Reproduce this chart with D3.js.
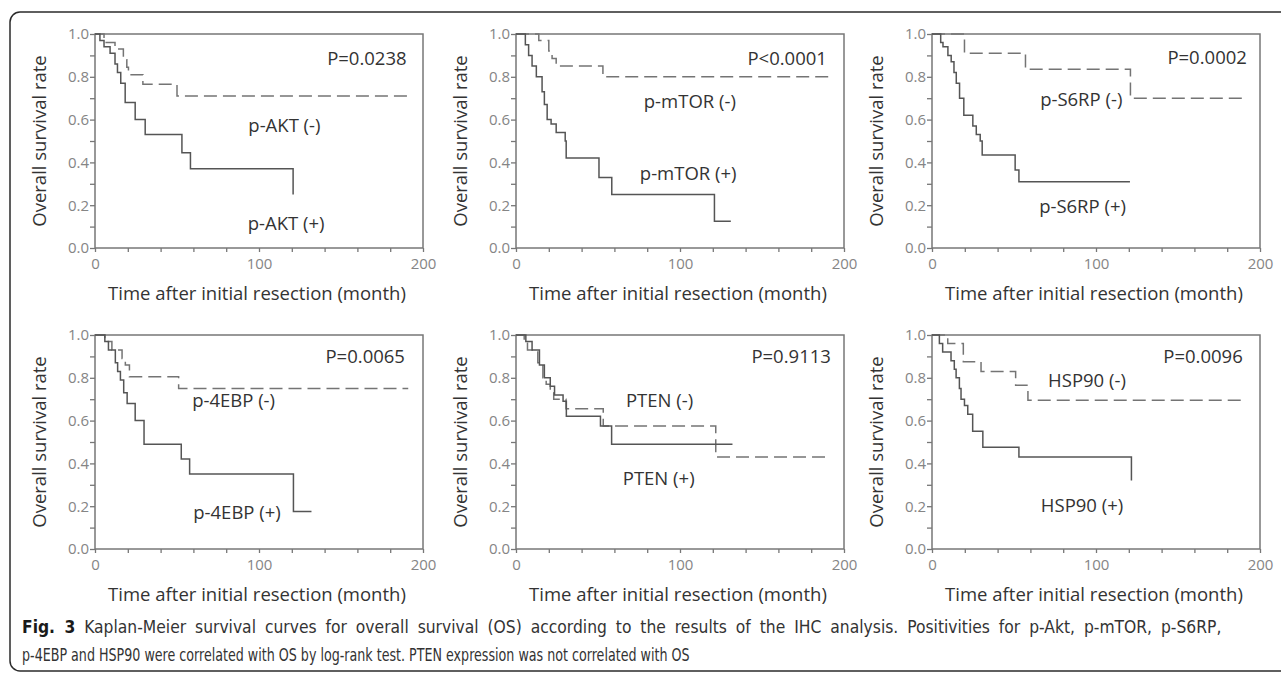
<!DOCTYPE html>
<html>
<head>
<meta charset="utf-8">
<script src="https://cdn.jsdelivr.net/npm/d3@7"></script>
<style>
  body { margin: 0; background: #fff; }
  svg { display: block; }
</style>
</head>
<body>
<script>
  // survival steps: [month, survival after event]; last point = end of follow-up
  var aktNeg = [[0,1],[5.5,0.96],[12.2,0.93],[17.3,0.88],[19.4,0.845],[20.4,0.81],[29.2,0.765],[50,0.71],[191,0.71]];
  var aktPos = [[0,1],[3,0.97],[5.5,0.94],[9.2,0.91],[12.2,0.86],[13.7,0.82],[15.7,0.77],[18.4,0.68],[24.5,0.6],[30.6,0.53],[53,0.445],[58.2,0.37],[120.8,0.25]];

  var mtorNeg = [[0,1],[13.9,0.97],[20,0.92],[22,0.885],[24.5,0.85],[53,0.80],[191,0.80]];
  var mtorPos = [[0,1],[5.7,0.95],[7.7,0.9],[9.8,0.85],[12.4,0.8],[15.9,0.73],[17.3,0.67],[19,0.6],[21.4,0.58],[24.5,0.54],[30,0.5],[30.6,0.42],[50.6,0.33],[58.4,0.25],[121,0.125],[131,0.125]];

  var s6rpNeg = [[0,1],[19.8,0.91],[57,0.835],[121,0.70],[191,0.70]];
  var s6rpPos = [[0,1],[5.3,0.96],[6.7,0.94],[9.7,0.9],[11.7,0.87],[13.4,0.82],[14.8,0.77],[16.8,0.7],[19.4,0.62],[24.9,0.57],[27,0.53],[29.4,0.5],[30.6,0.435],[50.7,0.365],[53,0.31],[120.7,0.31]];

  var ebpNeg = [[0,1],[6,0.97],[10.3,0.93],[16.5,0.89],[18.5,0.86],[21,0.805],[51,0.75],[191,0.75]];
  var ebpPos = [[0,1],[6,0.97],[8.2,0.93],[12.4,0.87],[13.8,0.83],[15.5,0.79],[17.5,0.73],[19.6,0.68],[24.5,0.6],[29.9,0.49],[52.6,0.42],[57.7,0.35],[121,0.175],[132,0.175]];

  var ptenNeg = [[0,1],[5,0.97],[7,0.93],[13.3,0.87],[16.4,0.8],[18.4,0.77],[20.9,0.73],[23,0.7],[30.5,0.655],[53.2,0.575],[121.8,0.43],[190.4,0.43]];
  var ptenPos = [[0,1],[6,0.97],[9.8,0.93],[14.3,0.86],[17.3,0.8],[20.9,0.76],[23.5,0.72],[28.7,0.69],[30.7,0.62],[51.5,0.575],[58.3,0.49],[132,0.49]];

  var hspNeg = [[0,1],[9.6,0.96],[19.1,0.875],[29.9,0.83],[51,0.765],[58.5,0.695],[190,0.695]];
  var hspPos = [[0,1],[4.5,0.96],[6.5,0.92],[11.6,0.88],[13.6,0.84],[14.7,0.8],[16.7,0.75],[17.7,0.7],[19.8,0.67],[21.8,0.63],[24.8,0.55],[31,0.475],[53,0.43],[121.6,0.32]];

  var markers = ['p-AKT', 'p-mTOR', 'p-S6RP', 'p-4EBP', 'PTEN', 'HSP90'];
  var pValues = ['P=0.0238', 'P<0.0001', 'P=0.0002', 'P=0.0065', 'P=0.9113', 'P=0.0096'];
  var negSeries = [aktNeg, mtorNeg, s6rpNeg, ebpNeg, ptenNeg, hspNeg];
  var posSeries = [aktPos, mtorPos, s6rpPos, ebpPos, ptenPos, hspPos];

  var xTicks = [0, 100, 200];
  var yTicks = [0, 0.2, 0.4, 0.6, 0.8, 1.0];

  // where the labels sit, in data units [month, survival]
  var negLabelAt = [[115.5,0.575],[106,0.687],[91,0.70],[84.5,0.70],[87.5,0.70],[94.5,0.79]];
  var posLabelAt = [[116.5,0.12],[105,0.355],[91.8,0.2],[86.6,0.176],[87,0.335],[91.5,0.21]];
  var pLabelAt = [[190,0.89],[189.6,0.89],[192,0.895],[189,0.905],[192,0.905],[189.5,0.905]];

  var captionBold = 'Fig. 3';
  var captionLine1 = ' Kaplan-Meier survival curves for overall survival (OS) according to the results of the IHC analysis. Positivities for p-Akt, p-mTOR, p-S6RP,';
  var captionLine2 = 'p-4EBP and HSP90 were correlated with OS by log-rank test. PTEN expression was not correlated with OS';

  var W = 1281, H = 677;
  var colX = [95, 516, 932], rowY = [34, 335];
  var pw = 328, ph = 214;
  var font = '"Open Sans", "DejaVu Sans", sans-serif';

  var svg = d3.select('body').append('svg')
    .attr('width', W).attr('height', H);

  svg.append('rect')
    .attr('x', 10).attr('y', 12)
    .attr('width', 1300).attr('height', 659)
    .attr('rx', 10)
    .attr('fill', 'none')
    .attr('stroke', '#2b2b2b')
    .attr('stroke-width', 1.5);

  markers.forEach(function (m, i) {
    var ox = colX[i % 3], oy = rowY[Math.floor(i / 3)];
    var g = svg.append('g').attr('transform', 'translate(' + ox + ',' + oy + ')');

    var x = d3.scaleLinear().domain([0, 200]).range([0, pw]);
    var y = d3.scaleLinear().domain([0, 1]).range([ph, 0]);

    var xAxis = d3.axisBottom(x)
      .tickValues(d3.range(0, 201, 20))
      .tickSize(4)
      .tickFormat(function (d) { return xTicks.indexOf(d) >= 0 ? d : ''; });
    var yAxis = d3.axisLeft(y)
      .tickValues(d3.range(0, 11).map(function (k) { return k / 10; }))
      .tickSize(5)
      .tickFormat(function (d) {
        return yTicks.some(function (t) { return Math.abs(t - d) < 1e-6; }) ? d3.format('.1f')(d) : '';
      });

    var gx = g.append('g').attr('transform', 'translate(0,' + ph + ')').call(xAxis);
    var gy = g.append('g').call(yAxis);
    [gx, gy].forEach(function (a) {
      a.select('.domain').remove();
      a.selectAll('line').attr('stroke', '#777').attr('stroke-width', 1.3);
      a.selectAll('text').attr('fill', '#858585').style('font-family', font).style('font-size', '15px');
    });
    gx.selectAll('text').attr('dy', '0.95em');
    gy.selectAll('text').attr('x', -6);

    g.append('rect')
      .attr('width', pw).attr('height', ph)
      .attr('fill', 'none')
      .attr('stroke', '#777')
      .attr('stroke-width', 1.5);

    var line = d3.line()
      .x(function (d) { return x(d[0]); })
      .y(function (d) { return y(d[1]); })
      .curve(d3.curveStepAfter);

    g.append('path')
      .attr('d', line(negSeries[i]))
      .attr('fill', 'none')
      .attr('stroke', '#747474')
      .attr('stroke-width', 1.5)
      .attr('stroke-dasharray', '13,6');

    g.append('path')
      .attr('d', line(posSeries[i]))
      .attr('fill', 'none')
      .attr('stroke', '#555')
      .attr('stroke-width', 1.5);

    g.append('text')
      .attr('x', x(negLabelAt[i][0])).attr('y', y(negLabelAt[i][1]))
      .attr('text-anchor', 'middle').attr('dominant-baseline', 'central')
      .style('font-family', font).style('font-size', '18.5px').attr('fill', '#333')
      .text(m + ' (-)');
    g.append('text')
      .attr('x', x(posLabelAt[i][0])).attr('y', y(posLabelAt[i][1]))
      .attr('text-anchor', 'middle').attr('dominant-baseline', 'central')
      .style('font-family', font).style('font-size', '18.5px').attr('fill', '#333')
      .text(m + ' (+)');
    g.append('text')
      .attr('x', x(pLabelAt[i][0])).attr('y', y(pLabelAt[i][1]))
      .attr('text-anchor', 'end').attr('dominant-baseline', 'central')
      .style('font-family', font).style('font-size', '18.5px').attr('fill', '#333')
      .text(pValues[i]);

    g.append('text')
      .attr('x', pw / 2 - 2).attr('y', ph + 44)
      .attr('text-anchor', 'middle').attr('dominant-baseline', 'central')
      .style('font-family', font).style('font-size', '18.5px').attr('fill', '#333')
      .text('Time after initial resection (month)');
    g.append('text')
      .attr('transform', 'translate(-57,' + (ph / 2) + ') rotate(-90)')
      .attr('text-anchor', 'middle').attr('dominant-baseline', 'central')
      .style('font-family', font).style('font-size', '18.5px').attr('fill', '#333')
      .text('Overall survival rate');
  });

  // caption: glyphs squeezed horizontally, first line justified
  var capFont = '"DejaVu Sans Condensed", "Liberation Sans Narrow", sans-serif';

  var cap2 = svg.append('g');
  var c2 = cap2.append('text')
    .attr('x', 0).attr('y', 661)
    .style('font-family', capFont).style('font-stretch', 'condensed')
    .style('font-size', '17px').attr('fill', '#333')
    .text(captionLine2);
  var r2 = 668 / c2.node().getComputedTextLength();
  cap2.attr('transform', 'translate(22,0) scale(' + r2 + ',1)');

  var cap1 = svg.append('g');
  var c1 = cap1.append('text')
    .attr('x', 0).attr('y', 633)
    .style('font-family', capFont).style('font-stretch', 'condensed')
    .style('font-size', '17px').attr('fill', '#333');
  c1.append('tspan').style('font-weight', 'bold').attr('fill', '#1a1a1a').text(captionBold);
  c1.append('tspan').text(captionLine1);
  var spaces = (captionBold + captionLine1).split(' ').length - 1;
  var extra = 4; // extra px per space on the justified line
  var r1 = (1200 - spaces * extra) / c1.node().getComputedTextLength();
  cap1.attr('transform', 'translate(22,0) scale(' + r1 + ',1)');
  c1.style('word-spacing', (extra / r1) + 'px');
</script>
</body>
</html>
